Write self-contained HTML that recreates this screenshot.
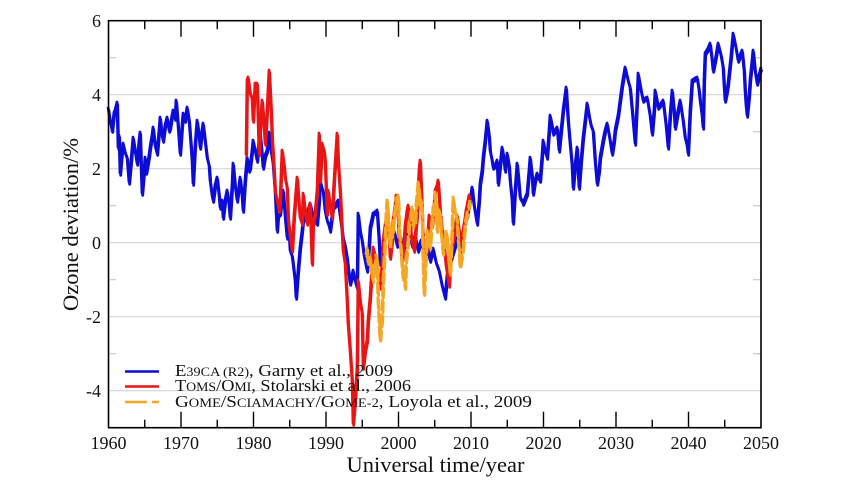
<!DOCTYPE html>
<html><head><meta charset="utf-8"><style>
html,body{margin:0;padding:0;background:#fff;}
svg{display:block;}
text{font-family:"Liberation Serif",serif;fill:#111;}
</style></head><body>
<svg width="865" height="487" viewBox="0 0 865 487" xmlns="http://www.w3.org/2000/svg">
<defs>
<polyline id="blue" fill="none" stroke="#0c0cd6" stroke-width="2.8" stroke-linejoin="round" points="108,107 110,120 112,130 114,112 115,110 117,102 118,147 119,135 120,173 122,150 123,143 125,152 127,157 128,170 129,182 131,160 133,137 135,150 137,163 139,140 140,132 141,165 142,193 144,170 145,157 146,172 147,167 149,155 150,147 152,135 153,127 155,145 157,153 159,130 160,117 162,135 163,140 165,125 167,117 169,130 170,127 172,115 173,110 175,118 176,100 178,125 180,153 182,125 183,113 185,120 187,107 189,120 190,133 192,160 193,183 195,145 197,120 199,135 200,147 202,130 203,123 205,140 207,157 209,165 210,180 212,195 213,200 215,185 217,177 219,195 220,207 222,200 223,217 225,200 227,190 229,205 230,217 232,185 233,163 235,185 237,200 239,185 240,177 242,195 243,210 245,180 247,157 249,170 250,167 252,150 253,140 255,150 257,160 259,140 260,133 262,155 263,167 265,155 267,150 268,140 269,132 271,150 273,163 275,190 277,230 278,215 280,213 282,195 283,190 285,215 287,237 289,230 290,250 292,255 293,263 295,280 296,297 298,270 300,247 302,230 303,220 306,215 308,210 310,203 313,215 315,220 317,223 319,200 320,180 322,188 323,190 325,210 327,220 329,225 330,230 332,215 333,207 335,205 338,200 340,215 343,237 345,245 347,257 349,275 350,283 352,275 353,270 355,280 357,287 358,213 360,230 362,240 364,255 367,270 369,245 370,227 372,218 373,213 375,212 377,210 379,240 380,263 382,250 385,235 388,225 391,240 394,230 397,245 400,235 403,250 406,240 409,228 412,245 415,235 418,250 421,240 424,255 427,245 430,260 433,248 436,262 439,270 442,285 445,297 447,275 449,265 452,255 455,245 458,235 461,250 464,225 467,215 470,200 472,187 474,205 477,223 479,200 480,183 482,170 483,157 485,140 487,120 489,135 490,150 492,160 493,167 495,165 497,160 498,183 500,165 502,147 504,160 505,170 507,153 509,165 510,180 512,200 513,222 515,190 517,163 519,185 520,197 522,200 523,203 525,198 527,193 529,170 530,157 532,175 533,193 535,180 537,173 539,178 540,180 542,155 543,140 545,150 547,157 549,130 550,115 552,125 553,133 555,130 557,127 559,150 560,140 563,110 566,87 568,120 570,143 572,165 573,187 575,165 577,147 578,170 579,187 581,160 583,137 585,120 587,103 589,115 591,125 593,130 595,160 597,183 599,170 600,157 603,140 605,130 607,123 610,140 612,153 614,140 615,130 618,115 620,100 622,85 625,67 628,80 630,87 633,120 635,143 637,100 638,73 641,90 643,100 645,98 647,97 650,115 652,133 654,110 655,90 657,100 658,107 661,103 663,100 666,125 668,147 670,115 672,90 674,110 675,127 678,110 680,100 683,120 685,137 687,145 688,153 690,110 692,80 695,78 697,77 699,90 700,100 702,115 703,127 704,80 705,53 708,48 710,43 712,60 713,70 716,55 718,43 721,55 723,67 724,85 725,100 727,90 728,83 731,55 733,33 736,48 738,60 740,55 742,50 744,70 745,90 746,105 747,115 749,95 750,80 752,60 753,50 755,70 757,83 759,75 761,67"/>
<polyline id="red" fill="none" stroke="#ea1414" stroke-width="2.8" stroke-linejoin="round" points="246,155 247,80 248,77 250,93 252,97 253,120 255,83 257,83 259,153 260,130 262,100 264,125 265,143 267,110 268,90 269,70 271,110 272,137 274,170 275,190 277,200 279,210 280,200 282,150 284,165 285,177 287,187 288,217 290,235 292,250 294,215 297,177 299,205 300,217 302,223 303,193 305,210 307,223 309,210 310,203 312,263 313,223 315,213 317,190 319,133 320,180 322,143 324,150 325,160 327,213 328,190 330,205 332,217 334,180 337,133 338,160 340,190 342,230 343,250 345,263 347,300 348,323 350,350 352,380 353,423 355,400 357,367 358,280 360,300 362,313 363,367 365,350 367,340 368,320 370,297 372,265 373,247 375,255 377,267 379,280 380,287 382,265 383,240 385,225 387,213 389,235 390,257 392,240 393,220 395,205 396,195 398,215 399,240 401,250 402,260 404,240 405,225 407,210 408,205 410,220 411,235 413,245 414,250 416,225 417,215 418,190 419,170 420,160 421,185 423,240 425,250 426,255 428,230 429,215 431,222 432,225 434,205 435,190 437,185 438,180 439,195 440,210 442,230 443,240 445,255 446,265 448,278 449,285 450,268 451,250 453,240 454,235 456,222 457,215 459,230 460,240 462,235 463,230 465,218 466,210 468,200 469,195 470,200"/>
<polyline id="orange" fill="none" stroke="#f5a623" stroke-width="3" stroke-linejoin="round" stroke-dasharray="12,2.5" points="366,255 367,248 368,262 369,255 370,257 371,270 372,275 373,280 374,265 375,270 376,255 377,260 378,300 379,320 380,340 381,325 382,320 383,280 384,260 385,240 386,215 387,200 388,215 389,230 390,247 391,228 392,235 393,230 394,215 395,210 396,198 397,200 398,195 399,225 400,240 401,250 402,265 403,278 404,270 405,287 406,260 407,250 408,240 409,222 410,220 411,212 412,207 413,225 414,218 415,223 416,205 417,195 418,182 419,190 420,205 421,200 422,213 423,260 424,293 425,270 426,250 427,230 428,235 429,240 430,247 431,230 432,220 433,207 434,215 435,192 436,210 437,230 438,220 439,210 440,213 441,230 442,240 443,253 444,240 445,245 446,230 447,237 448,250 449,262 450,273 451,250 452,230 453,197 454,205 455,210 456,215 457,220 458,238 459,250 460,267 461,260 462,255 463,247 464,235 465,225 466,218 467,213 468,210 469,205 470,200"/>
</defs>
<rect width="865" height="487" fill="#fff"/>
<!-- grid -->
<g stroke="#d6d6d6" stroke-width="1.2">
<line x1="108.5" x2="761" y1="94.7" y2="94.7"/>
<line x1="108.5" x2="761" y1="168.7" y2="168.7"/>
<line x1="108.5" x2="761" y1="242.7" y2="242.7"/>
<line x1="108.5" x2="761" y1="316.7" y2="316.7"/>
<line x1="108.5" x2="761" y1="390.7" y2="390.7"/>
</g>
<!-- minor y ticks -->
<g stroke="#c8c8c8" stroke-width="1.2">
<line x1="108.5" x2="116" y1="57.7" y2="57.7"/><line x1="753" x2="761" y1="57.7" y2="57.7"/>
<line x1="108.5" x2="116" y1="131.7" y2="131.7"/><line x1="753" x2="761" y1="131.7" y2="131.7"/>
<line x1="108.5" x2="116" y1="205.7" y2="205.7"/><line x1="753" x2="761" y1="205.7" y2="205.7"/>
<line x1="108.5" x2="116" y1="279.7" y2="279.7"/><line x1="753" x2="761" y1="279.7" y2="279.7"/>
<line x1="108.5" x2="116" y1="353.7" y2="353.7"/><line x1="753" x2="761" y1="353.7" y2="353.7"/>
</g>

<!-- series (doubled with small offset to mimic dense monthly jitter) -->
<use href="#blue"/>
<use href="#blue" transform="translate(0.7,2.4)"/>
<use href="#red"/>
<use href="#red" transform="translate(0.7,2.4)"/>
<use href="#orange"/>
<use href="#orange" transform="translate(0.7,2.4)"/>

<!-- frame -->
<rect x="108.5" y="20.7" width="652.5" height="407" fill="none" stroke="#000" stroke-width="1.6"/>
<!-- x ticks -->
<g stroke="#000" stroke-width="1.4">
<line x1="181" x2="181" y1="427.7" y2="411.7"/><line x1="181" x2="181" y1="20.7" y2="36.7"/>
<line x1="253.5" x2="253.5" y1="427.7" y2="411.7"/><line x1="253.5" x2="253.5" y1="20.7" y2="36.7"/>
<line x1="326" x2="326" y1="427.7" y2="411.7"/><line x1="326" x2="326" y1="20.7" y2="36.7"/>
<line x1="398.5" x2="398.5" y1="427.7" y2="411.7"/><line x1="398.5" x2="398.5" y1="20.7" y2="36.7"/>
<line x1="471" x2="471" y1="427.7" y2="411.7"/><line x1="471" x2="471" y1="20.7" y2="36.7"/>
<line x1="543.5" x2="543.5" y1="427.7" y2="411.7"/><line x1="543.5" x2="543.5" y1="20.7" y2="36.7"/>
<line x1="616" x2="616" y1="427.7" y2="411.7"/><line x1="616" x2="616" y1="20.7" y2="36.7"/>
<line x1="688.5" x2="688.5" y1="427.7" y2="411.7"/><line x1="688.5" x2="688.5" y1="20.7" y2="36.7"/>
<line x1="144.75" x2="144.75" y1="427.7" y2="419.7"/><line x1="144.75" x2="144.75" y1="20.7" y2="29.2"/>
<line x1="217.25" x2="217.25" y1="427.7" y2="419.7"/><line x1="217.25" x2="217.25" y1="20.7" y2="29.2"/>
<line x1="289.75" x2="289.75" y1="427.7" y2="419.7"/><line x1="289.75" x2="289.75" y1="20.7" y2="29.2"/>
<line x1="362.25" x2="362.25" y1="427.7" y2="419.7"/><line x1="362.25" x2="362.25" y1="20.7" y2="29.2"/>
<line x1="434.75" x2="434.75" y1="427.7" y2="419.7"/><line x1="434.75" x2="434.75" y1="20.7" y2="29.2"/>
<line x1="507.25" x2="507.25" y1="427.7" y2="419.7"/><line x1="507.25" x2="507.25" y1="20.7" y2="29.2"/>
<line x1="579.75" x2="579.75" y1="427.7" y2="419.7"/><line x1="579.75" x2="579.75" y1="20.7" y2="29.2"/>
<line x1="652.25" x2="652.25" y1="427.7" y2="419.7"/><line x1="652.25" x2="652.25" y1="20.7" y2="29.2"/>
<line x1="724.75" x2="724.75" y1="427.7" y2="419.7"/><line x1="724.75" x2="724.75" y1="20.7" y2="29.2"/>
</g>

<!-- x tick labels -->
<g font-size="18" text-anchor="middle">
<text x="108.5" y="449">1960</text>
<text x="181" y="449">1970</text>
<text x="253.5" y="449">1980</text>
<text x="326" y="449">1990</text>
<text x="398.5" y="449">2000</text>
<text x="471" y="449">2010</text>
<text x="543.5" y="449">2020</text>
<text x="616" y="449">2030</text>
<text x="688.5" y="449">2040</text>
<text x="761" y="449">2050</text>
</g>
<!-- y tick labels -->
<g font-size="18" text-anchor="end">
<text x="101" y="27">6</text>
<text x="101" y="101">4</text>
<text x="101" y="175">2</text>
<text x="101" y="249">0</text>
<text x="101" y="323">-2</text>
<text x="101" y="397">-4</text>
</g>

<!-- axis titles -->
<text x="435.5" y="472" font-size="22.5" text-anchor="middle">Universal time/year</text>
<text transform="translate(78,224.5) rotate(-90)" font-size="22.5" text-anchor="middle">Ozone deviation/%</text>

<!-- legend -->
<line x1="125" x2="159" y1="371.5" y2="371.5" stroke="#0c0cd6" stroke-width="2.6"/>
<line x1="125" x2="159" y1="386.5" y2="386.5" stroke="#ea1414" stroke-width="2.6"/>
<line x1="125" x2="159" y1="402" y2="402" stroke="#f5a623" stroke-width="2.6" stroke-dasharray="22,5"/>
<g font-size="16.5">
<text x="175" y="376" textLength="218" lengthAdjust="spacingAndGlyphs">E<tspan font-size="12.5">39CA (R2)</tspan>, Garny et al., 2009</text>
<text x="175" y="391" textLength="236" lengthAdjust="spacingAndGlyphs">T<tspan font-size="12.5">OMS</tspan>/O<tspan font-size="12.5">MI</tspan>, Stolarski et al., 2006</text>
<text x="175" y="407" textLength="357" lengthAdjust="spacingAndGlyphs">G<tspan font-size="12.5">OME</tspan>/S<tspan font-size="12.5">CIAMACHY</tspan>/G<tspan font-size="12.5">OME-2</tspan>, Loyola et al., 2009</text>
</g>
</svg>
</body></html>
